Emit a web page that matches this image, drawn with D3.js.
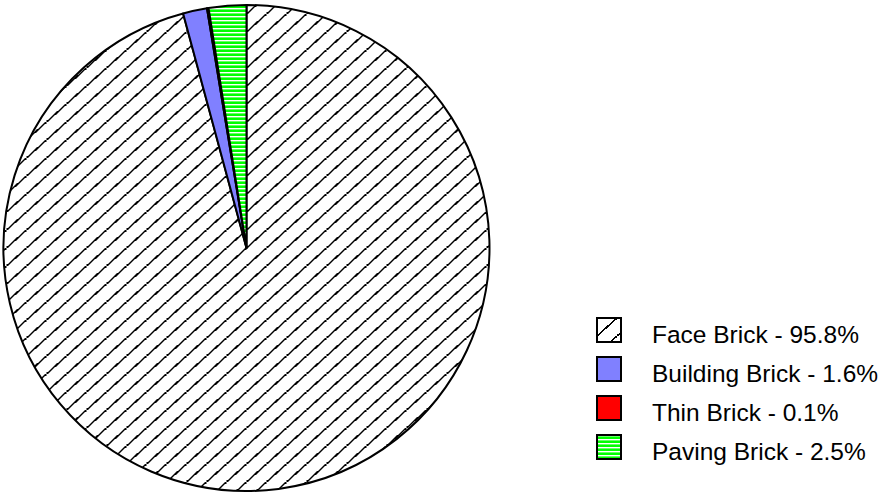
<!DOCTYPE html>
<html>
<head>
<meta charset="utf-8">
<script src="https://cdn.jsdelivr.net/npm/d3@7"></script>
<style>
  html, body { margin: 0; padding: 0; background: #fff; }
  svg { display: block; }
</style>
</head>
<body>
<svg id="chart" width="882" height="493"></svg>
<script>
// Brick shipments by product type (share of total, %)
const categories = ["Face Brick", "Building Brick", "Thin Brick", "Paving Brick"];
const shares = [95.8, 1.6, 0.1, 2.5];
const fills = ["url(#hatch)", "#8080ff", "#ff0000", "url(#stripes)"];

const svg = d3.select("#chart");
const defs = svg.append("defs");

// Diagonal hatch for face brick
const hw = 20, hh = 18;
const hatch = defs.append("pattern")
  .attr("id", "hatch")
  .attr("patternUnits", "userSpaceOnUse")
  .attr("width", hw).attr("height", hh);
hatch.append("rect").attr("width", hw).attr("height", hh).attr("fill", "#fff");
hatch.selectAll("line")
  .data([[0, hh, hw, 0], [-hw, hh, 0, 0], [hw, hh, 2 * hw, 0]])
  .join("line")
  .attr("x1", d => d[0]).attr("y1", d => d[1])
  .attr("x2", d => d[2]).attr("y2", d => d[3])
  .attr("stroke", "#000").attr("stroke-width", 1.6)
  .attr("shape-rendering", "crispEdges");

// Horizontal green/white stripes for paving brick
const stripes = defs.append("pattern")
  .attr("id", "stripes")
  .attr("patternUnits", "userSpaceOnUse")
  .attr("width", 8).attr("height", 4);
stripes.append("rect").attr("width", 8).attr("height", 4).attr("fill", "#00ff00");
stripes.append("rect").attr("y", 0).attr("width", 8).attr("height", 1.4).attr("fill", "#fff");

const cx = 246.5, cy = 248, radius = 243;

const pie = d3.pie().sort(null).value(d => d);
const arc = d3.arc().innerRadius(0).outerRadius(radius);

const g = svg.append("g").attr("transform", `translate(${cx},${cy})`);
g.selectAll("path")
  .data(pie(shares))
  .join("path")
  .attr("d", arc)
  .attr("fill", (d, i) => fills[i])
  .attr("stroke", "#000")
  .attr("stroke-width", 2)
  .attr("stroke-linejoin", "round");

// Legend
const legendX = 597, legendY = 318, rowGap = 39, box = 24;
const legend = svg.append("g");
const rows = legend.selectAll("g")
  .data(categories)
  .join("g")
  .attr("transform", (d, i) => `translate(${legendX},${legendY + i * rowGap})`);
rows.append("rect")
  .attr("width", box).attr("height", box)
  .attr("fill", (d, i) => fills[i])
  .attr("stroke", "#000")
  .attr("stroke-width", 2);
rows.append("text")
  .attr("x", 55)
  .attr("y", box + 0.5)
  .attr("font-family", "'Liberation Sans', Arial, sans-serif")
  .attr("font-size", 24.5)
  .attr("fill", "#000")
  .text((d, i) => `${d} - ${shares[i]}%`);
</script>
</body>
</html>
